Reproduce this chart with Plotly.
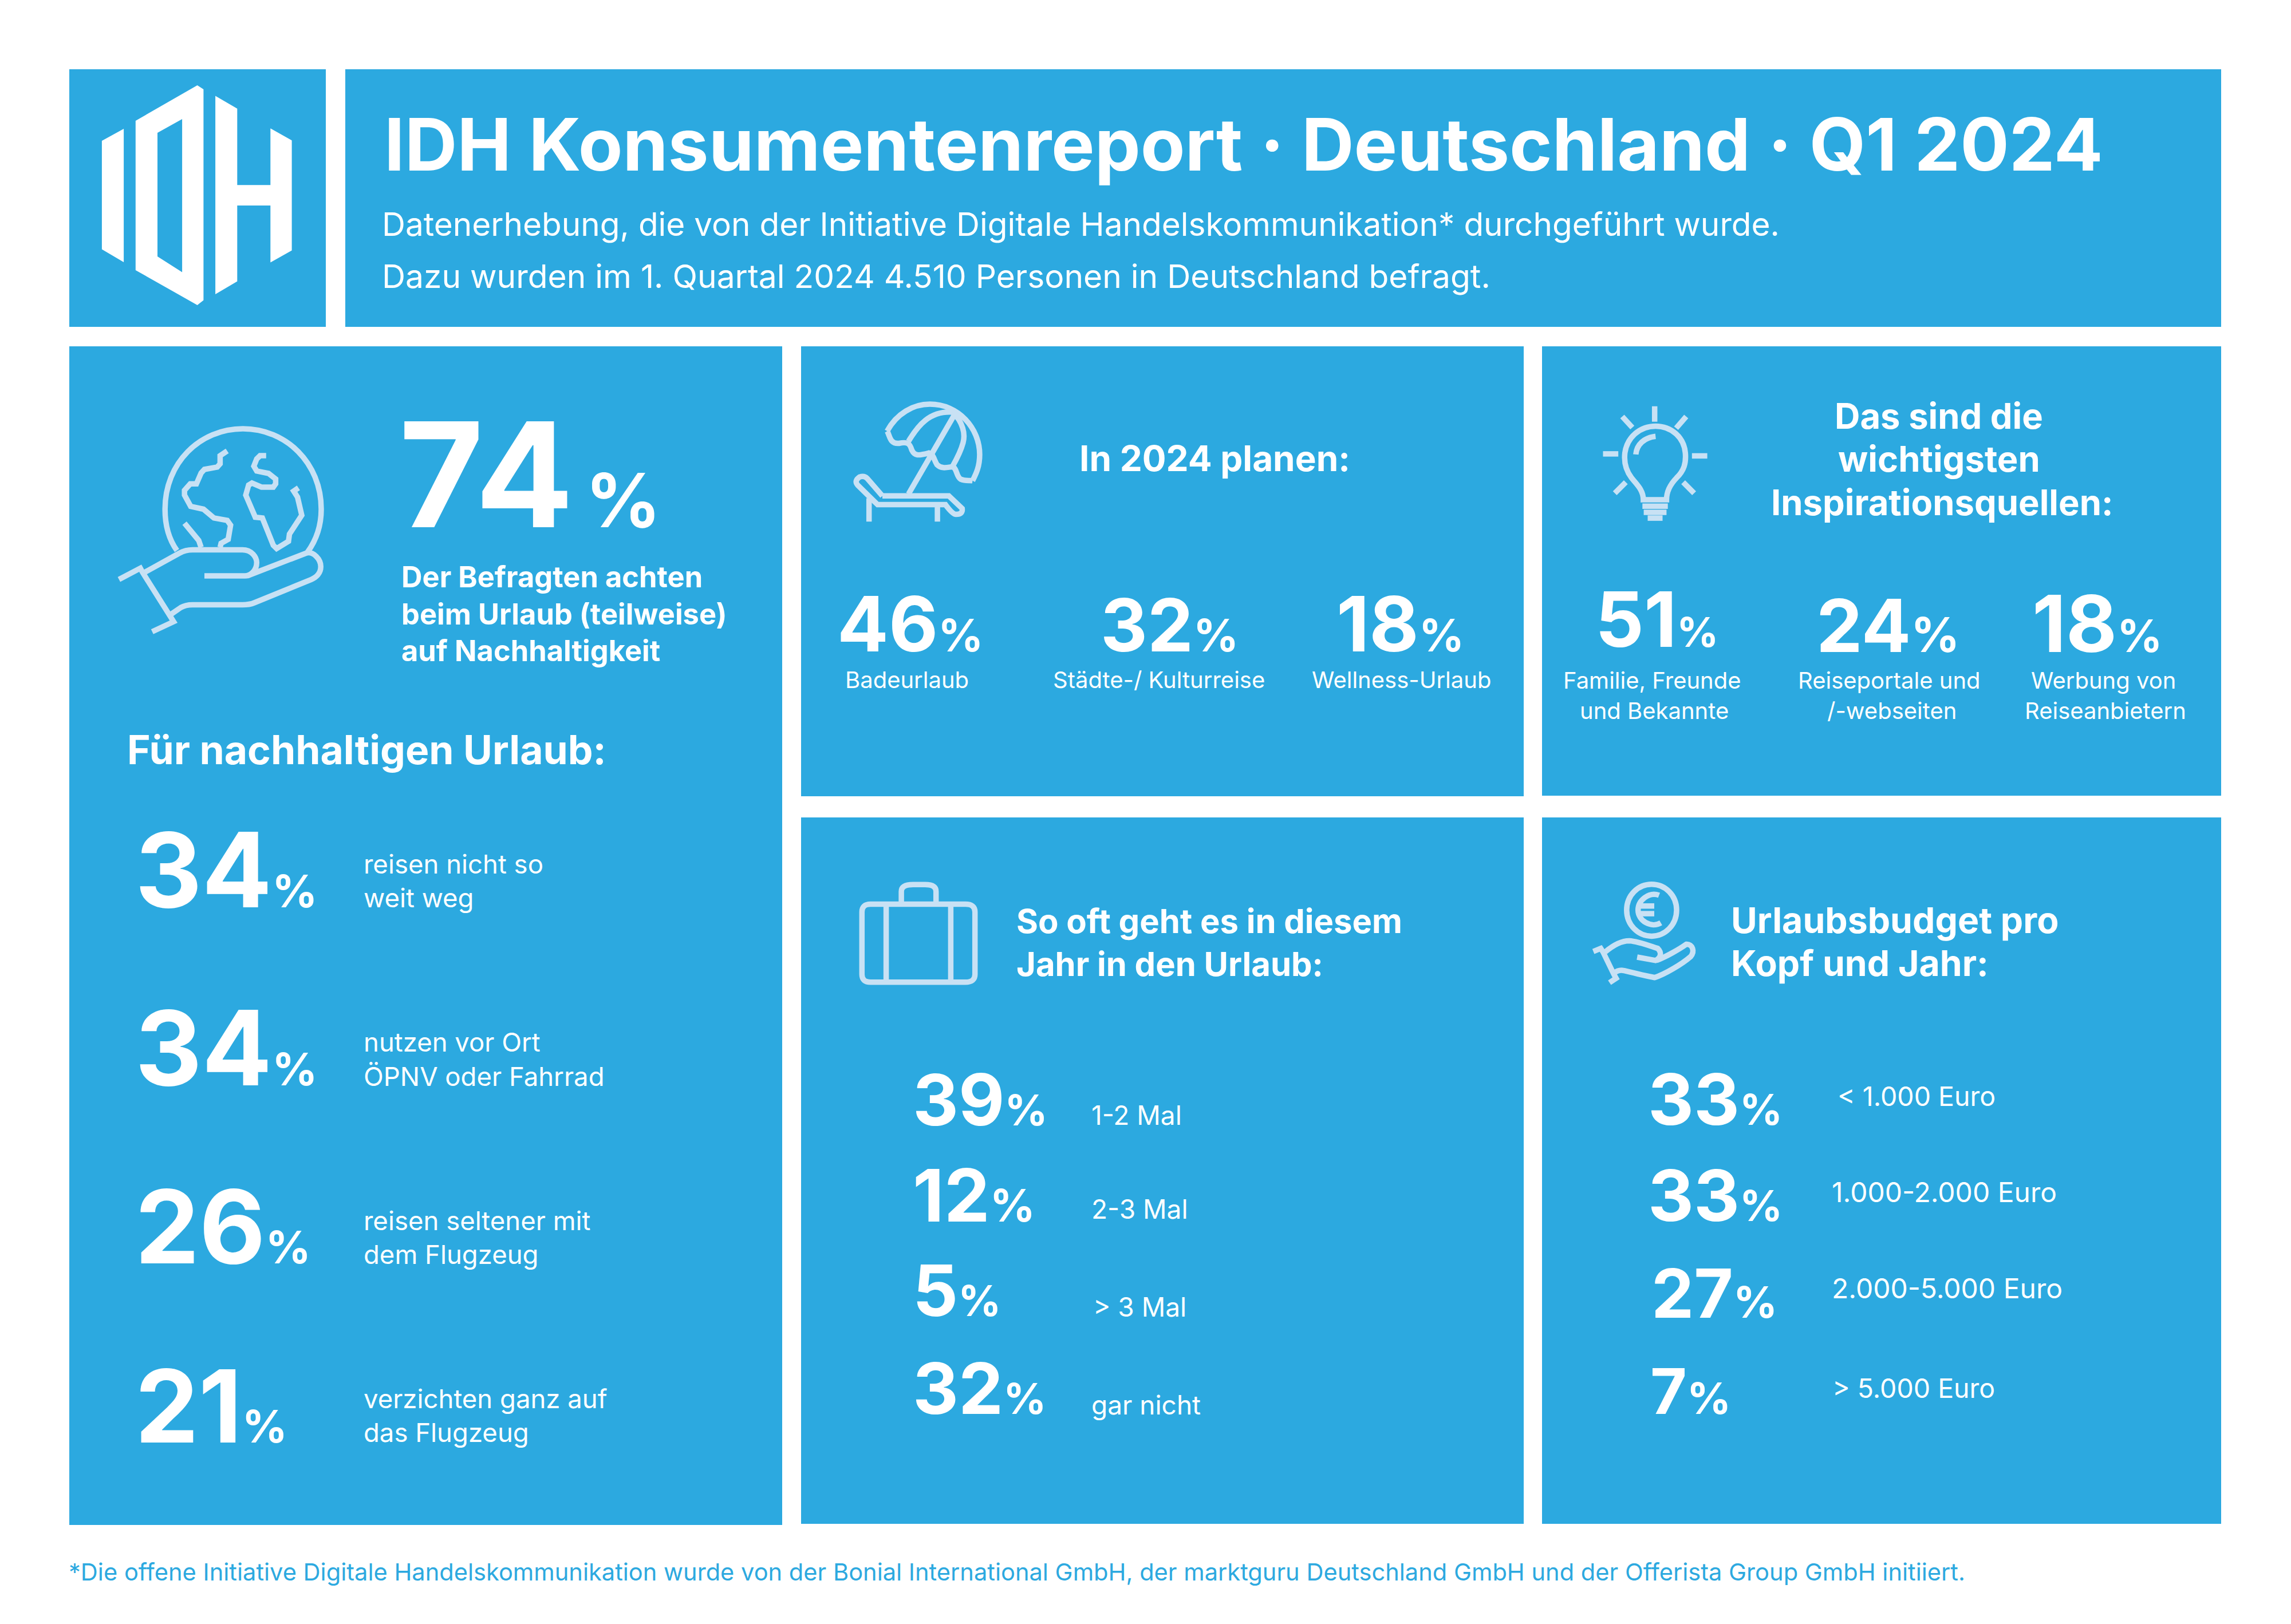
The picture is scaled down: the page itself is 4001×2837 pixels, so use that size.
#!/usr/bin/env python3
"""IDH Konsumentenreport Q1 2024 infographic rebuilt as one Plotly figure."""

import re
import plotly.graph_objects as go

# ---- content ----
HEAD_TITLE = "IDH Konsumentenreport · Deutschland · Q1 2024"
HEAD_SUB = ["Datenerhebung, die von der Initiative Digitale Handelskommunikation* durchgeführt wurde.",
            "Dazu wurden im 1. Quartal 2024 4.510 Personen in Deutschland befragt."]
FOOTNOTE = ("*Die offene Initiative Digitale Handelskommunikation wurde von der Bonial International GmbH, "
            "der marktguru Deutschland GmbH und der Offerista Group GmbH initiiert.")

main_value = 74
main_text = ["Der Befragten achten", "beim Urlaub (teilweise)", "auf Nachhaltigkeit"]

green_title = "Für nachhaltigen Urlaub:"
green_values = [34, 34, 26, 21]
green_labels = [["reisen nicht so", "weit weg"], ["nutzen vor Ort", "ÖPNV oder Fahrrad"],
                ["reisen seltener mit", "dem Flugzeug"], ["verzichten ganz auf", "das Flugzeug"]]

plan_title = "In 2024 planen:"
plan_values = [46, 32, 18]
plan_labels = ["Badeurlaub", "Städte-/ Kulturreise", "Wellness-Urlaub"]

insp_title = ["Das sind die", "wichtigsten", "Inspirationsquellen:"]
insp_values = [51, 24, 18]
insp_labels = [["Familie, Freunde", "und Bekannte"], ["Reiseportale und", "/-webseiten"],
               ["Werbung von", "Reiseanbietern"]]

freq_title = ["So oft geht es in diesem", "Jahr in den Urlaub:"]
freq_values = [39, 12, 5, 32]
freq_labels = ["1-2 Mal", "2-3 Mal", "> 3 Mal", "gar nicht"]

budget_title = ["Urlaubsbudget pro", "Kopf und Jahr:"]
budget_values = [33, 33, 27, 7]
budget_labels = ["< 1.000 Euro", "1.000-2.000 Euro", "2.000-5.000 Euro", "> 5.000 Euro"]

# ---- styling ----
W, H = 4001, 2837
PAGE_MARGIN = 8  # the page body pushes the plot down and right by this much
BLUE = "#2CA9E0"
ICON = "#C8E1F4"
WHITE = "#FFFFFF"
FONT = "Inter"
HEADING = 650

fig = go.Figure()
shapes = []
notes = []


def put(x, base, text, size, weight=400, color=WHITE, anchor="left"):
    """Place one line of text by its baseline (pixel coordinates)."""
    notes.append(dict(
        x=x, y=base - 0.3635 * size, xref="x", yref="y", text=text, showarrow=False,
        xanchor=anchor, yanchor="middle", borderpad=0, borderwidth=0,
        font=dict(family=FONT, size=size, color=color, weight=weight),
    ))


def num(x, base, value, size, pct_size, gap=""):
    """Big number with its smaller percent sign, as one text."""
    put(x, base, f"{value}<span style='font-size:{pct_size}px'>{gap}%</span>", size, 700)


def panel(x0, y0, x1, y1):
    shapes.append(dict(type="rect", x0=x0, y0=y0, x1=x1, y1=y1, xref="x", yref="y",
                       fillcolor=BLUE, line=dict(width=0), layer="below"))


def place(path, ox, oy, sx, sy):
    """Scale an icon path sketched in crop coordinates onto the page."""
    def one(m):
        return f"{ox + float(m.group(1)) / sx:.1f},{oy + float(m.group(2)) / sy:.1f}"
    return re.sub(r"(-?[\d.]+),(-?[\d.]+)", one, path)


def icon(path, ox, oy, sx, sy, width=9.5):
    shapes.append(dict(type="path", path=place(path, ox, oy, sx, sy), xref="x", yref="y",
                       line=dict(color=ICON, width=width), fillcolor="rgba(0,0,0,0)"))


# ---- panels ----
panel(121, 121, 569, 571)
panel(603, 121, 3879, 571)
panel(121, 605, 1366, 2664)
panel(1399, 605, 2661, 1391)
panel(2693, 605, 3879, 1390)
panel(1399, 1428, 2661, 2662)
panel(2693, 1428, 3879, 2662)

# ---- logo ----
LOGO = ("M94,208 L140,178 L140,510 L94,478 Z "
        "M165,158 L295,70 L308,80 L308,605 L295,617 L165,530 Z "
        "M211,188 L263,154 L263,535 L211,496 Z "
        "M333,96 L379,128 L379,318 L449,318 L449,177 L494,207 L494,481 L449,511 "
        "L449,369 L379,369 L379,558 L333,590 Z")
shapes.append(dict(type="path", path=place(LOGO, 100, 100, 1.206, 1.425), xref="x", yref="y",
                   fillcolor=WHITE, line=dict(width=0)))

# ---- icons ----
GLOBE = [
    "M252,1228 C232,1195 227,1160 227,1125 C227,1010 300,925 391,925 C482,925 556,1010 556,1125 C556,1160 548,1198 527,1232",
    "M358,980 L343,992 L343,1012 L337,1020 L310,1026 L303,1035 L293,1062 L280,1062 L268,1078 L268,1090 L281,1118 L308,1125 L330,1147 L358,1153 L365,1165 L360,1200 L345,1210 L343,1220",
    "M268,1160 L298,1203 L303,1220",
    "M440,992 L427,992 L420,1000 L414,1018 L420,1030 L445,1036 L460,1050 L460,1062 L455,1070 L430,1070 L410,1060 L403,1065 L397,1090 L417,1145 L432,1147 L455,1215 L462,1223 L487,1205 L489,1187 L515,1140 L506,1095 L498,1080 L508,1072",
    "M130,1300 L175,1272 L180,1283 L245,1405 L200,1430",
    "M183,1283 L258,1234 Q270,1226 285,1226 L390,1226 C410,1226 420,1245 420,1258 C420,1280 405,1291 395,1291 L310,1291",
    "M400,1291 L525,1234 C540,1230 555,1250 555,1268 C555,1285 545,1295 535,1300 L415,1358 Q405,1363 390,1363 L285,1363 Q270,1363 260,1370 L238,1388",
]
for p in GLOBE:
    icon(p, 100, 100, 1.206, 1.425)

UMBRELLA = [
    "M180,300 C200,240 235,208 270,208 C330,208 375,290 375,380 C375,420 368,445 360,470",
    "M180,300 C186,315 185,345 205,342 C225,335 228,345 232,365 C238,385 245,385 268,375 C278,380 278,395 285,415 C295,430 305,425 318,422 C328,430 325,455 335,465 C345,472 352,468 360,470",
    "M225,335 C245,280 270,230 318,235",
    "M318,235 C340,270 345,310 340,340 C335,370 325,400 318,420",
    "M325,235 L225,515",
    "M170,522 L310,522 L338,565 Q340,585 325,585 Q318,585 303,552 L160,552 L118,485 Q110,470 122,457 Q132,452 138,462 L170,522",
    "M142,530 L142,610",
    "M286,558 L286,610",
]
for p in UMBRELLA:
    icon(p, 1400, 600, 1.206, 1.96)

BULB = [
    "M248,215 L248,268", "M174,250 L197,288", "M320,250 L297,290", "M130,378 L165,378",
    "M333,385 L368,385", "M182,475 L157,513", "M313,475 L338,513",
    "M222,535 C222,500 205,480 195,460 C180,430 178,400 180,375 C185,320 215,283 250,283 C285,283 315,320 318,375 C320,410 315,435 298,460 C285,480 275,505 275,535 Z",
    "M205,380 C207,345 225,322 250,318",
    "M220,557 L278,557", "M223,578 L275,578", "M232,598 L266,598",
]
for p in BULB:
    icon(p, 2700, 600, 1.307, 1.96)

CASE = [
    "M145,335 L345,335 Q365,335 365,365 L365,610 Q365,640 345,640 L145,640 Q127,640 127,610 L127,365 Q127,335 145,335 Z",
    "M210,330 L210,285 Q210,258 235,258 L260,258 Q283,258 283,285 L283,330",
    "M178,338 L178,638",
    "M314,338 L314,638",
]
for p in CASE:
    icon(p, 1400, 1430, 1.206, 2.24)

COIN = [
    "M184,358 C184,300 210,257 241,257 C272,257 298,300 298,358 C298,416 272,460 241,460 C210,460 184,416 184,358 Z",
    "M258,300 C235,285 210,320 210,358 C210,400 240,430 262,408",
    "M208,342 L247,342", "M208,372 L247,372",
    "M108,520 L125,508 L130,522 L155,610 L160,625 L145,642",
    "M135,522 C150,500 170,478 190,478 C210,480 240,500 255,508 C265,525 262,545 250,555 L208,542",
    "M252,555 C275,540 305,510 320,492 C335,490 340,520 330,540 C310,570 270,610 248,622 C225,615 190,600 178,595 C170,592 162,595 155,605",
]
for p in COIN:
    icon(p, 2700, 1430, 1.307, 2.24)

# ---- header ----
put(671, 298, HEAD_TITLE, 127, HEADING)
put(667, 412, HEAD_SUB[0], 56.7)
put(667, 503, HEAD_SUB[1], 56.9)

# ---- left panel ----
num(697, 921, main_value, 254, 130, gap="\u2009")
for base, line in zip([1026, 1091, 1155], main_text):
    put(701, base, line, 50.6, HEADING)

put(222, 1335, green_title, 69.5, HEADING)
green_base = [1585, 1896, 2207, 2519]
green_sizes = [181, 181, 178, 176]
green_line = [[1526, 1585], [1837, 1897], [2149, 2208], [2460, 2519]]
for v, lines, base, ns, ys in zip(green_values, green_labels, green_base, green_sizes, green_line):
    num(236, base, v, ns, 78)
    for y, line in zip(ys, lines):
        put(635, y, line, 45.5)

# ---- plans ----
put(1885, 823, plan_title, 62, HEADING)
for v, lab, nx, ns, cx in zip(plan_values, plan_labels, [1462, 1922, 2334], [133, 127, 133], [1584, 2024, 2447]):
    num(nx, 1138, v, ns, 78)
    put(cx, 1202, lab, 40, anchor="center")

# ---- inspiration ----
for base, cx, line in zip([749, 824, 900], [3386, 3386, 3391], insp_title):
    put(cx, base, line, 61.5, HEADING, anchor="center")
insp_nx = [2786, 3172, 3549]
insp_nb = [1130, 1139, 1139]
insp_ns = [133, 128, 137]
insp_ps = [72, 84, 78]
insp_cx = [[2885, 2889], [3299, 3304], [3673, 3677]]
for v, lines, nx, nb, ns, ps, cxs in zip(insp_values, insp_labels, insp_nx, insp_nb, insp_ns, insp_ps, insp_cx):
    num(nx, nb, v, ns, ps)
    for y, cx, line in zip([1203, 1256], cxs, lines):
        put(cx, y, line, 40, anchor="center")

# ---- frequency ----
for base, line in zip([1630, 1705], freq_title):
    put(1775, base, line, 58, HEADING)
freq_base = [1966, 2134, 2299, 2470]
freq_sizes = [124, 127, 124, 124]
freq_pcts = [74, 78, 74, 74]
freq_lab_base = [1965, 2129, 2300, 2471]
freq_lab_x = [1906, 1906, 1909, 1906]
for v, lab, b, ns, ps, lb, lx in zip(freq_values, freq_labels, freq_base, freq_sizes, freq_pcts, freq_lab_base, freq_lab_x):
    num(1594, b, v, ns, ps)
    put(lx, lb, lab, 46)

# ---- budget ----
for base, line in zip([1630, 1705], budget_title):
    put(3023, base, line, 62.5, HEADING)
budget_base = [1965, 2133, 2302, 2470]
budget_x = [2878, 2878, 2884, 2882]
budget_sizes = [124, 124, 118, 110]
budget_pcts = [74, 74, 76, 76]
budget_lab_base = [1932, 2100, 2268, 2442]
budget_lab_x = [3209, 3199, 3199, 3200]
budget_lab_sizes = [46.5, 48, 48, 46.5]
for v, lab, b, nx, ns, ps, lb, lx, ls in zip(budget_values, budget_labels, budget_base, budget_x, budget_sizes,
                                             budget_pcts, budget_lab_base, budget_lab_x, budget_lab_sizes):
    num(nx, b, v, ns, ps)
    put(lx, lb, lab, ls)

# ---- footnote ----
put(120, 2761, FOOTNOTE, 41.6, color=BLUE)

fig.update_layout(
    width=W, height=H, margin=dict(l=0, r=0, t=0, b=0),
    paper_bgcolor=WHITE, plot_bgcolor=WHITE, showlegend=False,
    xaxis=dict(range=[PAGE_MARGIN, W + PAGE_MARGIN], visible=False, fixedrange=True),
    yaxis=dict(range=[H + PAGE_MARGIN, PAGE_MARGIN], visible=False, fixedrange=True),
    shapes=shapes, annotations=notes,
)

fig.write_html("out.html")
